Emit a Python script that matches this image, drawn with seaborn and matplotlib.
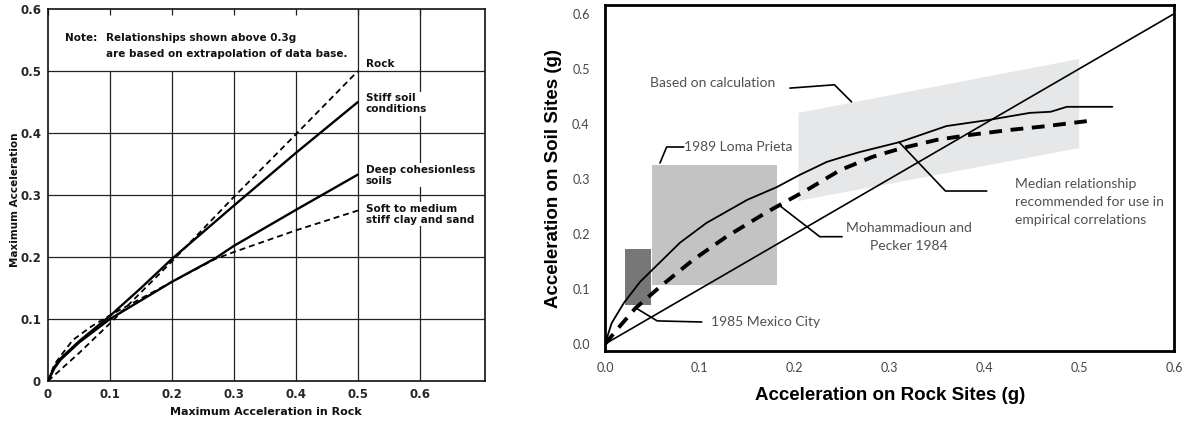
import numpy as np
import pandas as pd
import matplotlib
matplotlib.use("Agg")
import matplotlib.pyplot as plt
import seaborn as sns

# ---------------- data: left panel ----------------
rock_x = [0, 0.02, 0.05, 0.1, 0.2, 0.3, 0.4, 0.5]
rock_y = [0, 0.018, 0.045, 0.093, 0.193, 0.297, 0.398, 0.5]
stiff_x = [0, 0.01, 0.02, 0.05, 0.1, 0.15, 0.2, 0.3, 0.4, 0.5]
stiff_y = [0, 0.022, 0.036, 0.064, 0.105, 0.15, 0.197, 0.283, 0.368, 0.45]
deep_x = [0, 0.01, 0.02, 0.05, 0.1, 0.2, 0.27, 0.3, 0.4, 0.5]
deep_y = [0, 0.02, 0.034, 0.062, 0.1, 0.16, 0.198, 0.218, 0.276, 0.333]
soft_x = [0, 0.01, 0.02, 0.04, 0.07, 0.1, 0.2, 0.27, 0.3, 0.4, 0.5]
soft_y = [0, 0.026, 0.04, 0.066, 0.088, 0.106, 0.16, 0.197, 0.208, 0.243, 0.275]
left_ticks = [0, 0.1, 0.2, 0.3, 0.4, 0.5, 0.6]
left_xticklabels = ["0", "0.1", "0.2", "0.3", "0.4", "0.5", "0.6"]
left_yticklabels = ["0", "0.1", "0.2", "0.3", "0.4", "0.5", "0.6"]

# ---------------- data: right panel ----------------
median_x = [0, 0.007, 0.02, 0.037, 0.079, 0.107, 0.15, 0.181, 0.205, 0.234, 0.251,
            0.269, 0.311, 0.36, 0.404, 0.448, 0.47, 0.487, 0.535]
median_y = [0, 0.038, 0.075, 0.113, 0.184, 0.22, 0.262, 0.285, 0.307, 0.331, 0.34,
            0.349, 0.367, 0.396, 0.407, 0.42, 0.422, 0.431, 0.431]
mp_x = [0, 0.014, 0.032, 0.058, 0.093, 0.128, 0.171, 0.213, 0.248, 0.282, 0.311,
        0.35, 0.385, 0.427, 0.466, 0.508]
mp_y = [0, 0.029, 0.065, 0.104, 0.153, 0.195, 0.24, 0.28, 0.316, 0.34, 0.355,
        0.371, 0.38, 0.389, 0.396, 0.405]
diag_x = [0, 0.6]
diag_y = [0, 0.6]
calc_x = [0.204, 0.5, 0.5, 0.204]
calc_y = [0.42, 0.518, 0.356, 0.26]
loma_x = [0.05, 0.181]
loma_y = [0.107, 0.325]
mexico_x = [0.021, 0.048]
mexico_y = [0.071, 0.173]
right_ticks = [0.0, 0.1, 0.2, 0.3, 0.4, 0.5, 0.6]
right_ticklabels = ["0.0", "0.1", "0.2", "0.3", "0.4", "0.5", "0.6"]

sns.set_style("white")
plt.rcParams["font.family"] = ["DejaVu Sans"]

W, H = 1184, 421
fig = plt.figure(figsize=(W / 100, H / 100), dpi=100)

def frac(x0, y0, x1, y1):
    return [x0 / W, 1 - y1 / H, (x1 - x0) / W, (y1 - y0) / H]

# ================= LEFT PANEL =================
ax1 = fig.add_axes(frac(48, 9, 485, 381))
ax1.set_xlim(0, 0.705)
ax1.set_ylim(0, 0.6)
gc = "#222222"
for yv in [0.1, 0.2, 0.3, 0.4, 0.5]:
    ax1.axhline(yv, color=gc, lw=0.9, zorder=1)
for xv in [0.1, 0.2, 0.3, 0.4]:
    ax1.vlines(xv, 0, 0.5, color=gc, lw=0.9, zorder=1)
for xv in [0.5, 0.6]:
    ax1.axvline(xv, color=gc, lw=0.9, zorder=1)
for s in ax1.spines.values():
    s.set_color("#111111")
    s.set_linewidth(1.2)

dash_l = (0, (3.3, 2.2))
sns.lineplot(x=rock_x, y=rock_y, ax=ax1, color="k", lw=1.3, linestyle=dash_l,
             estimator=None, sort=False, zorder=3)
sns.lineplot(x=stiff_x, y=stiff_y, ax=ax1, color="k", lw=1.7,
             estimator=None, sort=False, zorder=3)
sns.lineplot(x=deep_x, y=deep_y, ax=ax1, color="k", lw=1.7,
             estimator=None, sort=False, zorder=3)
sns.lineplot(x=soft_x, y=soft_y, ax=ax1, color="k", lw=1.3, linestyle=dash_l,
             estimator=None, sort=False, zorder=3)

ax1.set_xticks(left_ticks)
ax1.set_xticklabels(left_xticklabels)
ax1.set_yticks(left_ticks)
ax1.set_yticklabels(left_yticklabels)
ax1.tick_params(axis="both", length=0, labelsize=8.5, pad=5)
ax1.tick_params(axis="x", top=True, direction="in", length=4, width=0.9, color=gc)
for lab in ax1.get_xticklabels() + ax1.get_yticklabels():
    lab.set_fontweight("bold")
ax1.set_xlabel("")
ax1.set_ylabel("")

tk = dict(fontsize=7.5, fontweight="bold", color="#111111")
ax1.text(0.028, 0.554, "Note:", va="center", ha="left", **tk)
ax1.text(0.094, 0.554, "Relationships shown above 0.3g", va="center", ha="left", **tk)
ax1.text(0.094, 0.527, "are based on extrapolation of data base.", va="center", ha="left", **tk)

bb = dict(facecolor="white", edgecolor="none", pad=1.0)
ax1.text(0.513, 0.512, "Rock", va="center", ha="left", **tk)
ax1.text(0.513, 0.447, "Stiff soil\nconditions", va="center", ha="left",
         linespacing=1.15, bbox=bb, zorder=4, **tk)
ax1.text(0.513, 0.332, "Deep cohesionless\nsoils", va="center", ha="left",
         linespacing=1.15, bbox=bb, zorder=4, **tk)
ax1.text(0.513, 0.269, "Soft to medium\nstiff clay and sand", va="center", ha="left",
         linespacing=1.15, bbox=bb, zorder=4, **tk)

fig.text(15 / W, 1 - 200 / H, "Maximum Acceleration", rotation=90,
         ha="center", va="center", **tk)
fig.text(266 / W, 1 - 412 / H, "Maximum Acceleration in Rock",
         ha="center", va="center", fontsize=8, fontweight="bold", color="#111111")

# ================= RIGHT PANEL =================
ax2 = fig.add_axes(frac(605, 5, 1174, 351))
ax2.set_xlim(0, 0.6)
ax2.set_ylim(-0.0127, 0.616)
for s in ax2.spines.values():
    s.set_color("black")
    s.set_linewidth(2.0)

ax2.fill(calc_x, calc_y, color="#e6e7e8", lw=0, zorder=1)
ax2.fill_between(loma_x, loma_y[0], loma_y[1], color="#c3c3c3", lw=0, zorder=1)
ax2.fill_between(mexico_x, mexico_y[0], mexico_y[1], color="#777777", lw=0, zorder=1)

sns.lineplot(x=diag_x, y=diag_y, ax=ax2, color="k", lw=1.2,
             estimator=None, sort=False, zorder=3)
sns.lineplot(x=median_x, y=median_y, ax=ax2, color="k", lw=1.3,
             estimator=None, sort=False, zorder=3)
sns.lineplot(x=mp_x, y=mp_y, ax=ax2, color="k", lw=2.8, linestyle=(0, (3.3, 2.2)),
             estimator=None, sort=False, zorder=3)

ax2.set_xticks(right_ticks)
ax2.set_xticklabels(right_ticklabels)
ax2.set_yticks(right_ticks)
ax2.set_yticklabels(right_ticklabels)
ax2.tick_params(axis="x", length=0, pad=8, labelsize=9, labelcolor="#444444")
ax2.tick_params(axis="y", length=0, pad=11, labelsize=9, labelcolor="#444444")
for lab in ax2.get_xticklabels() + ax2.get_yticklabels():
    lab.set_family(["Lato", "DejaVu Sans"])
ax2.set_xlabel("")
ax2.set_ylabel("")

fig.text(554 / W, 1 - 178 / H, "Acceleration on Soil Sites (g)", rotation=90,
         ha="center", va="center", fontsize=13.5, fontweight="bold",
         family=["Liberation Sans", "DejaVu Sans"], color="black")
fig.text(890 / W, 1 - 396 / H, "Acceleration on Rock Sites (g)",
         ha="center", va="center", fontsize=13.5, fontweight="bold",
         family=["Liberation Sans", "DejaVu Sans"], color="black")

at = dict(fontsize=10, color="#505050", family=["Lato", "DejaVu Sans"], zorder=5)
ax2.text(0.047, 0.4745, "Based on calculation", ha="left", va="center", **at)
ax2.text(0.083, 0.358, "1989 Loma Prieta", ha="left", va="center", **at)
ax2.text(0.32, 0.194, "Mohammadioun and\nPecker 1984", ha="center", va="center",
         linespacing=1.6, **at)
ax2.text(0.432, 0.258, "Median relationship\nrecommended for use in\nempirical correlations",
         ha="left", va="center", linespacing=1.6, **at)
ax2.text(0.112, 0.04, "1985 Mexico City", ha="left", va="center", **at)

leaders = [
    ([0.195, 0.242, 0.26], [0.465, 0.471, 0.44]),
    ([0.083, 0.065, 0.058], [0.358, 0.358, 0.329]),
    ([0.25, 0.2265, 0.183], [0.195, 0.195, 0.253]),
    ([0.4025, 0.359, 0.31], [0.278, 0.278, 0.367]),
    ([0.102, 0.055, 0.033], [0.04, 0.042, 0.065]),
]
for lx, ly in leaders:
    ax2.plot(lx, ly, color="k", lw=1.2, zorder=4)

fig.savefig("out.png", dpi=100)
